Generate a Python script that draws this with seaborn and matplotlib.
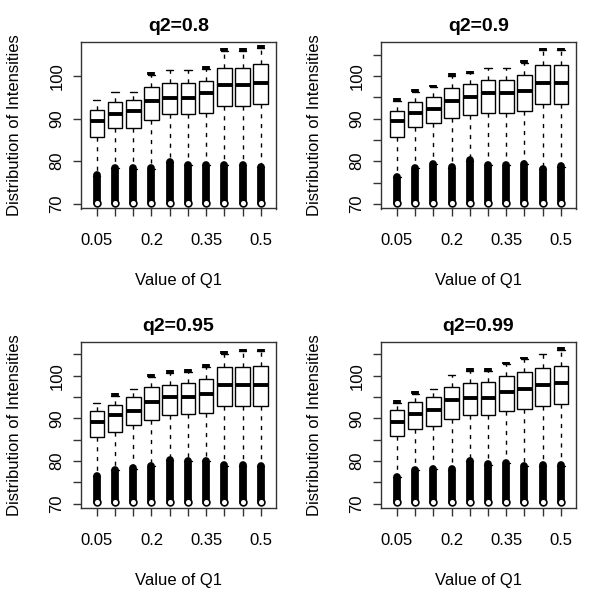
import numpy as np
import pandas as pd
import matplotlib
matplotlib.use("Agg")
import matplotlib.pyplot as plt
import seaborn as sns

q1_values = ["0.05", "0.1", "0.15", "0.2", "0.25", "0.3", "0.35", "0.4", "0.45", "0.5"]
panel_titles = ["q2=0.8", "q2=0.9", "q2=0.95", "q2=0.99"]
nan = np.nan

# q2 = 0.8
p08_lower = [85.7, 87.8, 87.8, 89.8, 91.0, 91.0, 91.4, 92.9, 92.9, 93.4]
p08_median = [89.4, 91.2, 91.75, 94.2, 94.9, 94.9, 96.1, 98.0, 98.0, 98.4]
p08_upper = [92.0, 94.0, 94.3, 97.4, 98.4, 98.4, 98.9, 101.9, 101.9, 102.8]
p08_whisker = [94.3, 96.3, 96.3, 100.35, 101.4, 101.4, 101.75, 105.85, 105.85, 106.65]
p08_high_out = [nan, nan, nan, 101.0, nan, nan, 102.4, 106.5, 106.5, 107.3]
p08_low_out = [77.6, 79.4, 79.2, 79.2, 80.8, 80.1, 80.1, 80.0, 80.0, 79.6]

# q2 = 0.9
p09_lower = [85.8, 88.0, 89.0, 90.2, 90.9, 91.3, 91.3, 91.9, 93.5, 93.5]
p09_median = [89.5, 91.3, 92.3, 94.1, 95.0, 96.1, 96.1, 96.5, 98.4, 98.4]
p09_upper = [91.9, 93.9, 95.0, 97.3, 98.2, 99.0, 99.0, 100.2, 102.5, 102.5]
p09_whisker = [94.25, 96.25, 97.35, 100.05, 100.65, 101.9, 101.9, 103.15, 106.05, 106.05]
p09_high_out = [94.9, 96.9, 98.0, 100.7, 101.3, nan, nan, 103.8, 106.7, 106.7]
p09_low_out = [77.3, 79.3, 80.3, 79.5, 81.1, 80.1, 80.1, 80.3, 79.1, 79.7]

# q2 = 0.95
p095_lower = [85.6, 86.9, 88.5, 89.7, 90.8, 91.0, 91.2, 92.9, 92.9, 92.8]
p095_median = [89.1, 90.8, 91.8, 93.9, 95.0, 95.0, 95.8, 97.8, 97.9, 97.9]
p095_upper = [91.8, 93.1, 94.9, 97.3, 97.9, 98.3, 99.2, 102.0, 102.0, 102.3]
p095_whisker = [93.7, 95.25, 96.8, 99.65, 100.65, 100.95, 102.15, 105.15, 105.75, 105.75]
p095_high_out = [nan, 95.9, nan, 100.3, 101.3, 101.6, 102.8, 105.8, 106.4, 106.4]
p095_low_out = [77.4, 78.8, 79.2, 79.7, 81.2, 80.9, 80.9, 79.9, 79.9, 79.7]

# q2 = 0.99
p099_lower = [85.8, 87.5, 88.3, 89.8, 90.8, 90.8, 91.8, 92.1, 92.9, 93.3]
p099_median = [89.2, 91.0, 91.9, 94.2, 94.8, 94.8, 96.2, 96.9, 97.9, 98.2]
p099_upper = [91.9, 93.8, 95.0, 97.4, 98.2, 98.5, 100.0, 100.8, 101.8, 102.4]
p099_whisker = [93.65, 95.75, 96.8, 100.2, 101.15, 101.15, 102.65, 103.85, 105.2, 106.15]
p099_high_out = [94.3, 96.4, nan, nan, 101.8, 101.8, 103.3, 104.5, nan, 106.8]
p099_low_out = [77.2, 78.8, 79.1, 78.9, 80.9, 80.1, 80.5, 79.7, 79.9, 79.9]

low_out_floor = 70.3

p08_yticks = [70, 80, 90, 100]
other_yticks = [70, 75, 80, 85, 90, 95, 100, 105]

panels = [
    (p08_lower, p08_median, p08_upper, p08_whisker, p08_high_out, p08_low_out, p08_yticks),
    (p09_lower, p09_median, p09_upper, p09_whisker, p09_high_out, p09_low_out, other_yticks),
    (p095_lower, p095_median, p095_upper, p095_whisker, p095_high_out, p095_low_out, other_yticks),
    (p099_lower, p099_median, p099_upper, p099_whisker, p099_high_out, p099_low_out, other_yticks),
]

sns.set_theme(style="ticks")
plt.rcParams["font.family"] = ["Liberation Sans", "DejaVu Sans"]
plt.rcParams["text.color"] = "black"
plt.rcParams["axes.labelcolor"] = "black"
plt.rcParams["axes.edgecolor"] = "#333333"
plt.rcParams["axes.linewidth"] = 1.0
plt.rcParams["xtick.color"] = "#333333"
plt.rcParams["ytick.color"] = "#333333"
plt.rcParams["xtick.labelcolor"] = "black"
plt.rcParams["ytick.labelcolor"] = "black"


def box_frame(lower, median, upper, whisker, low_out):
    # five values per box reproduce the quartiles exactly; whiskers go to min/max
    rows = []
    for cat, lo, q1, med, q3, hi in zip(q1_values, low_out, lower, median, upper, whisker):
        for v in (lo - 1.0, q1, med, q3, hi):
            rows.append({"q1": cat, "value": v})
    return pd.DataFrame(rows)


fig, axes = plt.subplots(2, 2, figsize=(6, 6), dpi=100)
fig.subplots_adjust(left=0.135, right=0.96, top=0.93, bottom=0.153, wspace=0.54, hspace=0.8)

for ax, title, (lower, median, upper, whisker, high_out, low_out, yticks) in zip(axes.flat, panel_titles, panels):
    df = box_frame(lower, median, upper, whisker, low_out)
    sns.boxplot(
        data=df, x="q1", y="value", order=q1_values, whis=np.inf, width=0.8,
        color="white", linecolor="black", linewidth=1.0, fliersize=0,
        medianprops={"linewidth": 2.8},
        whiskerprops={"linestyle": (0, (3, 4))},
        ax=ax,
    )
    pos = np.arange(len(q1_values))
    # dense lower outliers (overlapping open circles in the original)
    ax.vlines(pos, low_out_floor, np.array(low_out) - 0.9, color="black",
              linewidth=5.6, capstyle="round", zorder=4)
    ax.scatter(pos, [low_out_floor] * len(pos), s=24, facecolors="white",
               edgecolors="black", linewidths=1.2, zorder=5)
    # upper outliers sitting just above the cap
    hi = np.array(high_out)
    mask = ~np.isnan(hi)
    ax.vlines(pos[mask], np.array(whisker)[mask], hi[mask], color="black",
              linewidth=5.6, capstyle="butt", zorder=4)

    ax.set_xlim(-0.87, 9.83)
    ax.set_ylim(68.9, 108.0)
    ax.set_xticks(pos)
    ax.set_xticklabels([lab if i % 3 == 0 else "" for i, lab in enumerate(q1_values)])
    ax.set_yticks(yticks)
    ax.set_yticklabels([str(t) if t % 10 == 0 else "" for t in yticks], rotation=90, va="center")
    ax.tick_params(axis="x", length=6, width=1.0, pad=12, labelsize=12)
    ax.tick_params(axis="y", length=6, width=1.0, pad=6, labelsize=12)
    ax.set_title(title, fontsize=14, fontweight="bold", pad=8)
    ax.set_xlabel("Value of Q1", fontsize=12, labelpad=18)
    ax.set_ylabel("Distribution of Intensities", fontsize=12, labelpad=20)
    for side in ["top", "right", "bottom", "left"]:
        ax.spines[side].set_visible(True)

fig.savefig("out.png", dpi=100)
